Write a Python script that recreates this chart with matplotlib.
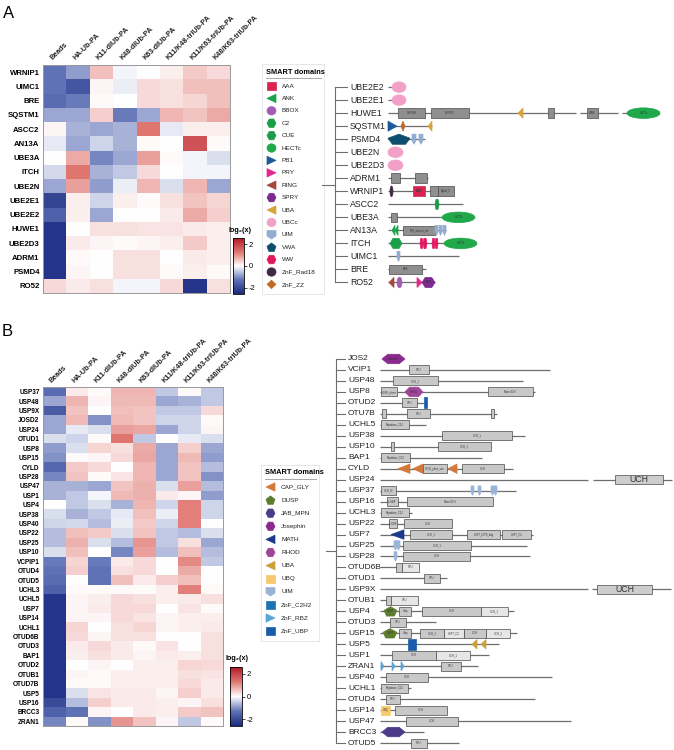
import numpy as np
import matplotlib.pyplot as plt
from matplotlib.colors import LinearSegmentedColormap
from matplotlib.cm import ScalarMappable
from matplotlib.colors import Normalize
from matplotlib.patches import Rectangle, Ellipse, Polygon

plt.rcParams['font.family'] = ['Liberation Sans', 'DejaVu Sans']

W, H = 674, 750

# ---------------------------------------------------------
# Heatmap data (log2 ratios)
# ---------------------------------------------------------
columns = ['Beads', 'HA-Ub-PA', 'K11-diUb-PA', 'K48-diUb-PA', 'K63-diUb-PA',
           'K11/K48-triUb-PA', 'K11/K63-triUb-PA', 'K48/K63-triUb-PA']

rows_a = ['WRNIP1', 'UIMC1', 'BRE', 'SQSTM1', 'ASCC2', 'AN13A', 'UBE3A', 'ITCH',
          'UBE2N', 'UBE2E1', 'UBE2E2', 'HUWE1', 'UBE2D3', 'ADRM1', 'PSMD4', 'RO52']
vals_a = [
    [-1.3, -0.9, 0.6, -0.1, 0.0, 0.15, 0.5, 0.35],
    [-1.3, -1.8, 0.1, -0.15, 0.35, 0.3, 0.6, 0.6],
    [-1.4, -1.2, 0.05, 0.0, 0.35, 0.3, 0.4, 0.6],
    [-0.8, -0.8, 0.45, -1.2, -0.8, 0.7, 0.55, 0.8],
    [0.1, -0.7, -0.8, -0.7, 1.3, -0.2, 0.15, 0.15],
    [-0.2, -0.8, -0.4, -0.7, 0.05, 0.0, 1.8, 0.05],
    [0.0, 0.8, -1.1, -0.8, 0.9, 0.05, -0.1, -0.3],
    [-0.35, 1.3, -0.7, -0.5, 0.35, 0.02, -0.1, -0.1],
    [-0.8, 0.9, -0.9, -0.15, 0.7, -0.3, 0.7, -0.8],
    [-2.1, 0.15, -0.4, 0.15, 0.05, 0.3, 0.55, 0.4],
    [-1.6, 0.15, -0.8, 0.02, 0.02, 0.2, 0.8, 0.45],
    [-2.4, 0.02, 0.3, 0.3, 0.25, 0.25, 0.2, 0.15],
    [-2.4, 0.2, 0.1, 0.05, 0.1, 0.15, 0.5, 0.15],
    [-2.4, 0.05, 0.02, 0.3, 0.3, 0.02, 0.2, 0.15],
    [-2.4, 0.1, 0.02, 0.3, 0.3, 0.05, 0.15, 0.05],
    [0.35, 0.2, 0.3, -0.1, -0.1, 0.35, -2.4, 0.3],
]

rows_b = ['USP37', 'USP48', 'USP9X', 'JOSD2', 'USP24', 'OTUD1', 'USP8', 'USP15',
          'CYLD', 'USP28', 'USP47', 'USP1', 'USP4', 'USP38', 'USP40', 'USP22',
          'USP25', 'USP10', 'VCPIP1', 'OTUD4', 'OTUD5', 'UCHL3', 'UCHL5', 'USP7',
          'USP14', 'UCHL1', 'OTUD6B', 'OTUD3', 'BAP1', 'OTUD2', 'OTUB1', 'OTUD7B',
          'USP5', 'USP16', 'BRCC3', 'ZRAN1']
vals_b = [
    [-1.4, 0.2, 0.05, 0.7, 0.7, -0.5, 0.05, -0.5],
    [-0.8, 0.7, 0.1, 0.65, 0.65, -0.8, -0.7, -0.5],
    [-1.7, 0.55, 0.0, 0.6, 0.55, -0.5, -0.5, 0.35],
    [-0.8, 0.65, -1.0, 0.65, 0.55, -0.4, -0.4, 0.05],
    [-0.8, -0.2, -0.3, 0.9, 0.85, -0.8, -0.4, 0.1],
    [-0.3, -0.4, 0.05, 1.3, -0.5, 0.0, -0.2, -0.3],
    [-0.9, -0.3, 0.4, 0.3, 0.8, -0.8, 0.45, -0.8],
    [-1.0, 0.05, 0.1, 0.35, 0.85, -0.8, 0.65, -0.9],
    [-1.5, 0.5, 0.35, 0.02, 0.7, -0.8, 0.55, -0.6],
    [-1.1, 0.55, 0.05, 0.25, 0.7, -0.8, 0.55, -1.0],
    [-0.7, -0.7, -0.8, 0.55, 0.75, -0.3, 0.9, -0.6],
    [-0.7, -0.5, -0.1, 0.65, 0.75, 0.2, 0.1, -0.9],
    [0.0, -0.5, -0.3, -0.7, 0.7, -0.4, 1.2, -0.4],
    [-0.3, -0.7, -0.5, -0.2, 0.6, -0.15, 1.2, -0.4],
    [-0.4, -0.35, -0.6, -0.15, 0.5, -0.4, 1.2, 0.02],
    [-0.6, 0.6, 0.5, -0.3, 0.55, -0.5, -0.6, -0.3],
    [-0.6, 0.75, -0.3, -0.6, 1.0, -0.5, 0.3, -0.8],
    [-0.3, 0.6, 0.02, -1.1, 0.9, -0.6, 0.6, -0.6],
    [-1.2, 0.4, -1.2, 0.2, 0.35, 0.02, 1.1, -0.5],
    [-1.3, 0.45, -1.3, 0.3, 0.35, 0.02, 0.8, 0.02],
    [-1.4, 0.02, -1.3, 0.6, 0.2, 0.45, 0.6, 0.02],
    [-1.6, 0.05, 0.05, 0.05, 0.05, 0.15, 1.2, 0.05],
    [-2.4, 0.1, 0.15, 0.35, 0.3, 0.15, 0.2, 0.3],
    [-2.4, 0.1, 0.2, 0.35, 0.35, 0.02, 0.25, 0.05],
    [-2.4, 0.1, 0.1, 0.35, 0.25, 0.1, 0.15, 0.15],
    [-2.4, 0.4, 0.02, 0.3, 0.4, 0.1, 0.15, 0.2],
    [-2.4, 0.35, 0.1, 0.3, 0.3, 0.02, 0.02, 0.3],
    [-2.4, 0.2, 0.35, 0.2, 0.05, 0.25, 0.02, 0.3],
    [-2.4, 0.15, 0.3, 0.2, 0.1, 0.2, 0.15, 0.3],
    [-2.4, 0.02, 0.1, 0.0, 0.15, 0.15, 0.4, 0.35],
    [-2.4, 0.1, 0.05, 0.15, 0.15, 0.15, 0.3, 0.25],
    [-2.4, 0.05, 0.05, 0.15, 0.15, 0.15, 0.35, 0.2],
    [-2.4, -0.3, 0.25, 0.2, 0.2, 0.1, 0.45, 0.2],
    [-2.0, -0.6, 0.45, 0.2, 0.2, 0.15, 0.1, 0.3],
    [-1.6, -1.3, 0.1, 0.02, 0.2, 0.15, 0.5, 0.55],
    [-1.1, 0.05, -1.0, 1.0, 0.55, 0.1, -0.5, 0.05],
]

# ---------------------------------------------------------
# Domain architecture data (positions relative to protein start)
# ---------------------------------------------------------
prot_a = ['UBE2E2', 'UBE2E1', 'HUWE1', 'SQSTM1', 'PSMD4', 'UBE2N', 'UBE2D3', 'ADRM1',
          'WRNIP1', 'ASCC2', 'UBE3A', 'AN13A', 'ITCH', 'UIMC1', 'BRE', 'RO52']
seg_a = [[(0, 6)], [(0, 6)], [(0, 188), (192, 230), (234, 255)], [(0, 44)], [(0, 37)],
         [], [], [(0, 40)], [(0, 66)], [(0, 75)], [(0, 56)], [(0, 58)], [(0, 58)],
         [(0, 71)], [(0, 38)], [(0, 47)]]
dom_a = [
    ('UBE2E2', 'UBCc', 4, 18, ''), ('UBE2E1', 'UBCc', 4, 18, ''),
    ('HUWE1', 'box', 10, 37, 'DUF908'), ('HUWE1', 'box', 43, 81, 'DUF913'),
    ('HUWE1', 'UBA', 130, 135, ''), ('HUWE1', 'box', 160, 166, ''),
    ('HUWE1', 'box', 199, 210, 'WWE'), ('HUWE1', 'HECTc', 239, 272, 'HECTc'),
    ('SQSTM1', 'PB1', 0, 9, ''), ('SQSTM1', 'ZnF_ZZ', 13, 17, ''), ('SQSTM1', 'UBA', 40, 44, ''),
    ('PSMD4', 'VWA', 0, 22, ''), ('PSMD4', 'UIM', 24, 28, ''), ('PSMD4', 'UIM', 31, 35, ''),
    ('UBE2N', 'UBCc', 0, 15, ''), ('UBE2D3', 'UBCc', 0, 15, ''),
    ('ADRM1', 'box', 3, 12, ''), ('ADRM1', 'box', 27, 39, ''),
    ('WRNIP1', 'ZnF_Rad18', 2, 5, ''), ('WRNIP1', 'AAA', 25, 37, 'AAA'),
    ('WRNIP1', 'box', 42, 50, ''), ('WRNIP1', 'box', 50, 66, 'MgsA_C'),
    ('ASCC2', 'CUE', 47, 51, ''),
    ('UBE3A', 'box', 3, 9, ''), ('UBE3A', 'HECTc', 54, 87, 'HECTc'),
    ('AN13A', 'ANK', 4, 7, ''), ('AN13A', 'ANK', 7, 10, ''),
    ('AN13A', 'box', 15, 47, 'PTK_domain_rel'),
    ('AN13A', 'UIM', 47, 50, ''), ('AN13A', 'UIM', 51, 54, ''), ('AN13A', 'UIM', 55, 58, ''),
    ('ITCH', 'C2', 2, 14, ''), ('ITCH', 'WW', 32, 35, ''), ('ITCH', 'WW', 35, 39, ''),
    ('ITCH', 'WW', 44, 47, ''), ('ITCH', 'WW', 47, 50, ''), ('ITCH', 'HECTc', 56, 89, 'HECTc'),
    ('UIMC1', 'UIM', 9, 12, ''),
    ('BRE', 'box', 1, 34, 'BRE'),
    ('RO52', 'RING', 1, 6, ''), ('RO52', 'BBOX', 9, 14, ''),
    ('RO52', 'PRY', 29, 34, ''), ('RO52', 'SPRY', 34, 47, 'SPRY'),
]

prot_b = ['JOS2', 'VCIP1', 'USP48', 'USP8', 'OTUD2', 'OTU7B', 'UCHL5', 'USP38', 'USP10',
          'BAP1', 'CYLD', 'USP24', 'USP37', 'USP16', 'UCHL3', 'USP22', 'USP7', 'USP25',
          'USP28', 'OTUD6B', 'OTUD1', 'USP9X', 'OTUB1', 'USP4', 'OTUD3', 'USP15', 'USP5',
          'USP1', 'ZRAN1', 'USP40', 'UCHL1', 'OTUD4', 'USP14', 'USP47', 'BRCC3', 'OTUD5']
seg_b = [[], [(0, 170)], [(0, 143)], [(0, 155)], [(0, 47)], [(0, 117)], [(0, 46)],
         [(0, 145)], [(0, 111)], [(0, 102)], [(0, 133)], [(0, 208), (213, 292)],
         [(0, 136)], [(0, 113)], [(0, 32)], [(0, 72)], [(0, 153)], [(0, 147)],
         [(0, 150)], [(0, 39)], [(0, 67)], [(0, 208), (212, 291)], [(0, 38)],
         [(0, 134)], [(0, 56)], [(0, 137)], [(0, 119)], [(0, 109)], [(0, 98)],
         [(0, 172)], [(0, 31)], [(0, 155)], [(0, 67)], [(0, 191)], [(0, 44)], [(0, 79)]]
dom_b = [
    ('JOS2', 'Josephin', 2, 25, 'Josephin'),
    ('VCIP1', 'box', 29, 49, 'OTU'),
    ('USP48', 'box', 13, 58, 'UCH_1'),
    ('USP8', 'box', 1, 17, 'USP8_dimer'), ('USP8', 'RHOD', 25, 43, 'RHOD'),
    ('USP8', 'box', 108, 153, 'Pfam:UCH'),
    ('OTUD2', 'box', 22, 37, 'OTU'), ('OTUD2', 'ZnF_UBP', 44, 47, ''),
    ('OTU7B', 'box', 2, 6, ''), ('OTU7B', 'box', 27, 50, 'OTU'), ('OTU7B', 'box', 111, 114, ''),
    ('UCHL5', 'box', 1, 29, 'Peptidase_C12'),
    ('USP38', 'box', 62, 132, 'UCH_1'),
    ('USP10', 'box', 11, 14, ''), ('USP10', 'box', 58, 111, 'UCH_1'),
    ('BAP1', 'box', 1, 30, 'Peptidase_C12'),
    ('CYLD', 'CAP_GLY', 18, 30, ''), ('CYLD', 'CAP_GLY', 33, 43, ''),
    ('CYLD', 'box', 43, 67, 'CYLD_phos_site'), ('CYLD', 'CAP_GLY', 68, 77, ''),
    ('CYLD', 'box', 82, 124, 'UCH'),
    ('USP24', 'bigbox', 235, 283, 'UCH'),
    ('USP37', 'box', 1, 16, 'UCH_N'), ('USP37', 'UIM', 91, 94, ''), ('USP37', 'UIM', 98, 101, ''),
    ('USP37', 'UIM', 111, 114, ''), ('USP37', 'UIM', 114, 117, ''),
    ('USP16', 'box', 7, 18, 'zf-UBP'), ('USP16', 'box', 27, 113, 'Pfam:UCH'),
    ('UCHL3', 'box', 1, 29, 'Peptidase_C12'),
    ('USP22', 'box', 9, 17, 'zf-UBP'), ('USP22', 'box', 24, 72, 'UCH'),
    ('USP7', 'MATH', 11, 24, ''), ('USP7', 'box', 30, 72, 'UCH_1'),
    ('USP7', 'box', 87, 120, 'USP7_ICP0_bdg'), ('USP7', 'box', 122, 151, 'USP7_C2'),
    ('USP25', 'UIM', 14, 17, ''), ('USP25', 'UIM', 17, 20, ''), ('USP25', 'box', 23, 91, 'UCH_1'),
    ('USP28', 'UIM', 14, 17, ''), ('USP28', 'box', 23, 90, 'UCH'),
    ('OTUD6B', 'box', 16, 22, ''), ('OTUD6B', 'lbox', 22, 39, 'OTU'),
    ('OTUD1', 'box', 44, 60, 'OTU'),
    ('USP9X', 'bigbox', 217, 272, 'UCH'),
    ('OTUB1', 'box', 6, 11, ''), ('OTUB1', 'lbox', 11, 38, 'OTU'),
    ('USP4', 'DUSP', 4, 17, 'DUSP'), ('USP4', 'box', 19, 31, 'Ubiq'),
    ('USP4', 'box', 42, 101, 'UCH'), ('USP4', 'lbox', 101, 128, 'UCH_1'),
    ('OTUD3', 'box', 10, 26, 'OTU'),
    ('USP15', 'DUSP', 3, 17, 'DUSP'), ('USP15', 'box', 19, 31, 'Ubiq'),
    ('USP15', 'box', 40, 64, 'UCH_1'), ('USP15', 'lbox', 64, 84, 'USP7_C2'),
    ('USP15', 'box', 84, 106, 'UCH'), ('USP15', 'lbox', 106, 130, 'UCH_1'),
    ('USP5', 'ZnF_UBP', 28, 36, ''), ('USP5', 'UBA', 92, 97, ''), ('USP5', 'UBA', 101, 106, ''),
    ('USP1', 'box', 12, 56, 'UCH'), ('USP1', 'lbox', 56, 90, 'UCH_1'),
    ('ZRAN1', 'ZnF_RBZ', 1, 4, ''), ('ZRAN1', 'ZnF_RBZ', 12, 15, ''),
    ('ZRAN1', 'ZnF_RBZ', 21, 24, ''), ('ZRAN1', 'box', 61, 81, 'OTU'),
    ('USP40', 'box', 6, 48, 'UCH'),
    ('UCHL1', 'box', 1, 28, 'Peptidase_C12'),
    ('OTUD4', 'box', 6, 20, 'OTU'),
    ('USP14', 'UBQ', 1, 10, 'UBQ'), ('USP14', 'box', 15, 67, 'UCH'),
    ('USP47', 'box', 26, 78, 'UCH'),
    ('BRCC3', 'JAB_MPN', 2, 25, ''),
    ('OTUD5', 'box', 31, 47, 'OTU'),
]

legend_a = ['AAA', 'ANK', 'BBOX', 'C2', 'CUE', 'HECTc', 'PB1', 'PRY', 'RING', 'SPRY',
            'UBA', 'UBCc', 'UIM', 'VWA', 'WW', 'ZnF_Rad18', 'ZnF_ZZ']
legend_b = ['CAP_GLY', 'DUSP', 'JAB_MPN', 'Josephin', 'MATH', 'RHOD', 'UBA', 'UBQ',
            'UIM', 'ZnF_C2H2', 'ZnF_RBZ', 'ZnF_UBP']

# shape and colour of each SMART domain
style_a = {'AAA': ('square', '#d8234f'), 'ANK': ('tri_l', '#1aa34a'),
           'BBOX': ('ellipse', '#a35db6'), 'C2': ('hex', '#1b9e47'),
           'CUE': ('hex', '#1b9e47'), 'HECTc': ('ellipse', '#20a84a'),
           'PB1': ('tri_r', '#1d5a9a'), 'PRY': ('tri_r', '#e5258e'),
           'RING': ('tri_l', '#a4473d'), 'SPRY': ('hex', '#7d2b8e'),
           'UBA': ('tri_l', '#d6a43c'), 'UBCc': ('ellipse', '#f3a0c8'),
           'UIM': ('pent_d', '#93acd2'), 'VWA': ('pent', '#0f4d6e'),
           'WW': ('hex', '#e3165f'), 'ZnF_Rad18': ('ellipse', '#3d2a3f'),
           'ZnF_ZZ': ('diamond', '#c06a2a'),
           'box': ('box', '#8f8f8f')}
style_b = {'CAP_GLY': ('tri_l', '#d4773a'), 'DUSP': ('pent', '#5e7d2e'),
           'JAB_MPN': ('hex', '#4b3c8a'), 'Josephin': ('hex', '#8a2a8e'),
           'MATH': ('tri_l', '#1c3a8c'), 'RHOD': ('hex', '#a0449a'),
           'UBA': ('tri_l', '#c9a03a'), 'UBQ': ('square', '#f6c96c'),
           'UIM': ('pent_d', '#9ab4d8'), 'ZnF_C2H2': ('square', '#1a73b5'),
           'ZnF_RBZ': ('tri_r', '#5aa5d8'), 'ZnF_UBP': ('square', '#1a5ca8'),
           'box': ('box', '#c8c8c8'), 'lbox': ('box', '#e6e6e6'),
           'bigbox': ('box', '#cdcdcd')}

cmap = LinearSegmentedColormap.from_list(
    'log2', [(0, '#1a2a80'), (0.25, '#5e71b6'), (0.5, '#ffffff'),
             (0.75, '#e07670'), (1, '#b2182b')])
VMAX = 2.6


def px_axes(fig, x0, y0, x1, y1):
    return fig.add_axes([x0 / W, 1 - y1 / H, (x1 - x0) / W, (y1 - y0) / H])


def draw_shape(ax, kind, x0, x1, y, h, fc, ec='#4a4a4a'):
    w = x1 - x0
    xc = (x0 + x1) / 2
    if kind in ('box', 'square'):
        p = Rectangle((x0, y - h), w, 2 * h)
    elif kind == 'ellipse':
        p = Ellipse((xc, y), w, 2 * h)
    elif kind == 'tri_l':
        p = Polygon([(x1, y - h), (x1, y + h), (x0, y)])
    elif kind == 'tri_r':
        p = Polygon([(x0, y - h), (x0, y + h), (x1, y)])
    elif kind == 'hex':
        p = Polygon([(x0, y), (x0 + w * 0.25, y - h), (x1 - w * 0.25, y - h),
                     (x1, y), (x1 - w * 0.25, y + h), (x0 + w * 0.25, y + h)])
    elif kind == 'pent':
        p = Polygon([(xc, y - h), (x1, y - 0.2 * h), (x1 - 0.2 * w, y + h),
                     (x0 + 0.2 * w, y + h), (x0, y - 0.2 * h)])
    elif kind == 'pent_d':
        p = Polygon([(x0, y - h), (x1, y - h), (x1, y + 0.3 * h),
                     (xc, y + h), (x0, y + 0.3 * h)])
    else:  # diamond
        p = Polygon([(x0, y), (xc, y - h), (x1, y), (xc, y + h)])
    p.set_facecolor(fc)
    p.set_edgecolor(ec if kind in ('box',) else fc)
    p.set_linewidth(0.5)
    p.set_zorder(3)
    ax.add_patch(p)


def heatmap(fig, box, rows, vals, row_fs):
    ax = px_axes(fig, *box)
    ax.pcolormesh(np.array(vals), cmap=cmap, vmin=-VMAX, vmax=VMAX)
    ax.set_xlim(0, len(columns))
    ax.set_ylim(len(rows), 0)
    ax.set_yticks(np.arange(len(rows)) + 0.5)
    ax.set_yticklabels(rows, fontsize=row_fs, fontweight='bold')
    ax.set_xticks([])
    ax.tick_params(axis='y', length=0, pad=2.5)
    for s in ax.spines.values():
        s.set_color('#9a9a9a')
        s.set_linewidth(0.7)
    for j, c in enumerate(columns):
        ax.text(j + 0.45, -0.25, c, rotation=45, rotation_mode='anchor',
                ha='left', va='bottom', fontsize=5.2, fontweight='bold', color='#222222')
    return ax


def colorbar(fig, box, title_xy):
    cax = px_axes(fig, *box)
    sm = ScalarMappable(norm=Normalize(-VMAX, VMAX), cmap=cmap)
    cb = fig.colorbar(sm, cax=cax, ticks=[-2, 0, 2])
    cb.ax.set_yticklabels(['-2', '0', '2'])
    cb.ax.tick_params(labelsize=5.5, length=2, width=0.5, pad=1.5)
    cb.outline.set_linewidth(0.6)
    fig.text(title_xy[0] / W, 1 - title_xy[1] / H, 'log\u2082(x)', fontsize=5.2,
             fontweight='bold', ha='left', va='center')


def diagram(fig, box, names, segs, doms, style, start_px, tree_x, stub_x0, name_x,
            h_box, name_fs):
    ax = px_axes(fig, *box)
    n = len(names)
    pad_top, pad_bot = 0.6, 0.6
    ax.set_ylim(n - 1 + pad_bot, -pad_top)
    ax.set_xlim(box[0] - start_px, box[2] - start_px)
    ax.axis('off')
    idx = {p: i for i, p in enumerate(names)}
    lc = '#6e6e6e'
    # tree
    ax.plot([tree_x, tree_x], [0, n - 1], color=lc, lw=0.8)
    ax.plot([stub_x0, tree_x], [(n - 1) / 2, (n - 1) / 2], color=lc, lw=0.8)
    for i, p in enumerate(names):
        ax.plot([tree_x, name_x - 3], [i, i], color=lc, lw=0.8)
        ax.text(name_x, i, p, fontsize=name_fs, va='center', ha='left', color='#222222')
        for s0, s1 in segs[i]:
            ax.plot([s0, s1], [i, i], color=lc, lw=0.9, solid_capstyle='butt', zorder=2)
    for p, kind, x0, x1, txt in doms:
        y = idx[p]
        shape, col = style[kind]
        hh = h_box
        if shape == 'ellipse':
            hh = h_box * 1.1
        elif shape in ('tri_l', 'tri_r', 'hex', 'pent', 'diamond', 'pent_d'):
            hh = h_box * 1.05
        if kind == 'ZnF_UBP' and style is style_b:
            hh = h_box * 1.25
        draw_shape(ax, shape, x0, x1, y, hh, col)
        if txt:
            fs = 6.3 if kind == 'bigbox' else 1.9
            ax.text((x0 + x1) / 2, y, txt, fontsize=fs, ha='center', va='center',
                    color='#333333', zorder=4, clip_on=True)
    return ax


def legend(ax, x, y0, dy, items, style, width):
    ax.text(x - 1, y0 - 14, 'SMART domains', fontsize=5.3, fontweight='bold',
            ha='left', va='center')
    ax.plot([x - 1, x + width - 8], [y0 - 8.5, y0 - 8.5], color='#9a9a9a', lw=0.6)
    ax.add_patch(Rectangle((x - 5, y0 - 22), width, dy * (len(items) - 1) + 32,
                           fill=False, ec='#e3e3e3', lw=0.6))
    for k, name in enumerate(items):
        shape, col = style[name]
        y = y0 + k * dy
        draw_shape(ax, shape, x, x + 9, y, 4.2, col)
        ax.text(x + 15, y, name, fontsize=4.6, ha='left', va='center', color='#222222')


fig = plt.figure(figsize=(W / 100, H / 100), dpi=100)
over = fig.add_axes([0, 0, 1, 1])
over.set_xlim(0, W)
over.set_ylim(H, 0)
over.axis('off')

over.text(3, 13, 'A', fontsize=12, ha='left', va='center')
over.text(2, 331, 'B', fontsize=12, ha='left', va='center')

# Panel A
heatmap(fig, (43, 65, 230, 293), rows_a, vals_a, 5.6)
colorbar(fig, (233, 238, 244, 294), (228, 231))
legend(over, 267, 86, 12.4, legend_a, style_a, 62)
diagram(fig, (320, 79.3, 674, 290.3), prot_a, seg_a, dom_a, style_a,
        388, -53, -66, -38, 0.37, 6.3)

# Panel B
heatmap(fig, (43, 387, 223, 726), rows_b, vals_b, 4.7)
colorbar(fig, (230, 667, 242, 726), (226, 658))
legend(over, 266, 487, 13.1, legend_b, style_b, 58)
diagram(fig, (320, 352.4, 674, 749.6), prot_b, seg_b, dom_b, style_b,
        380, -44, -54, -32, 0.41, 6.0)

fig.savefig('out.png', dpi=100)
